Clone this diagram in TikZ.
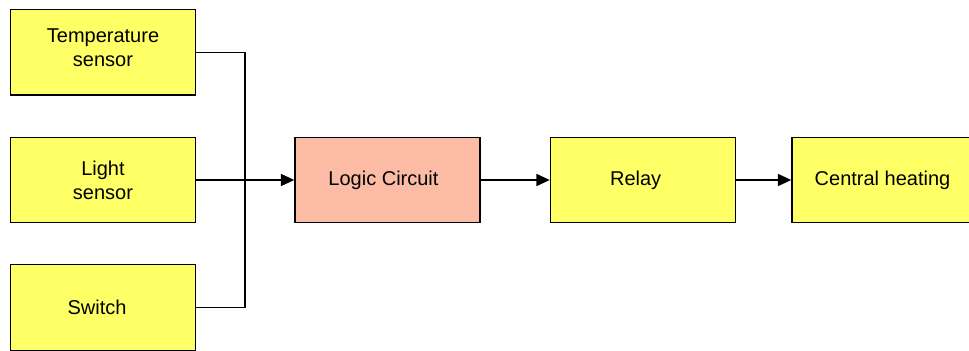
\documentclass[tikz,border=0pt]{standalone}
\usepackage{fontspec}
\setmainfont{Liberation Sans}
\usetikzlibrary{arrows.meta}
\definecolor{boxyellow}{HTML}{FFFF66}
\definecolor{boxsalmon}{HTML}{FBBBA5}
\begin{document}
\begin{tikzpicture}[x=0.75pt,y=-0.75pt,
  blk/.style={draw=black,line width=1.1pt,fill=boxyellow,minimum width=185*0.75pt,minimum height=85.5*0.75pt,inner sep=0pt,align=center,font=\fontsize{15}{18}\selectfont},
  txt/.style={font=\fontsize{15}{18}\selectfont,align=center,inner sep=0pt},
  wire/.style={draw=black,line width=1.1pt},
  arr/.style={wire,-{Triangle[length=10pt,width=9pt]}}]
\useasboundingbox (0,0) rectangle (969,350);
\node[blk,label={[txt,yshift=3.5pt]center:Temperature\\sensor}] (temp) at (103,52.3) {};
\node[blk] (light) at (103,180) {Light\\sensor};
\node[blk] (switch) at (103,307.5) {Switch\hspace*{9pt}};
\node[blk,fill=boxsalmon] (logic) at (387.5,180) {Logic Circuit\hspace*{6pt}};
\node[blk] (relay) at (643,180) {Relay\hspace*{11pt}};
\node[blk] (heat) at (884.5,180) {Central heating\hspace*{3pt}};
\coordinate (j) at (245,180);
\draw[wire] (temp.east) -| (j);
\draw[wire] (switch.east) -| (j);
\draw[arr] (light.east) -- (logic.west);
\draw[arr] (logic.east) -- (relay.west);
\draw[arr] (relay.east) -- (heat.west);
\end{tikzpicture}
\end{document}
